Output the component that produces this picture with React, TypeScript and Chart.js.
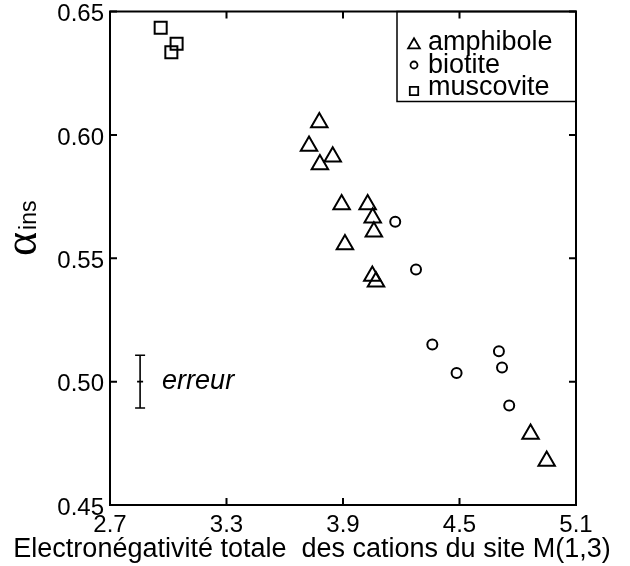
import React, { useEffect, useRef } from 'react';
import { Chart, registerables } from 'chart.js';

Chart.register(...registerables);

// ---- data ----
const seriesLabels = ['amphibole', 'biotite', 'muscovite'];

const amphiboleX = [3.778, 3.725, 3.781, 3.847, 3.893, 4.027, 4.053, 4.059, 3.91, 4.051, 4.07, 4.866, 4.949];
const amphiboleY = [0.605, 0.5955, 0.588, 0.5911, 0.5718, 0.5718, 0.5664, 0.5607, 0.5556, 0.5428, 0.5405, 0.4788, 0.4678];

const biotiteX = [4.169, 4.276, 4.36, 4.485, 4.703, 4.719, 4.756];
const biotiteY = [0.5648, 0.5454, 0.515, 0.5035, 0.5123, 0.5057, 0.4903];

const muscoviteX = [2.961, 3.043, 3.016];
const muscoviteY = [0.6434, 0.6369, 0.6335];

const xTicks = [2.7, 3.3, 3.9, 4.5, 5.1];
const yTicks = [0.45, 0.5, 0.55, 0.6, 0.65];

const xTitle = 'Electronégativité totale  des cations du site M(1,3)';
const yTitleMain = 'α';
const yTitleSub = 'ins';

const errorX = 2.855;
const errorCenter = 0.5;
const errorHalf = 0.0107;
const errorLabel = 'erreur';

const FONT = '"Liberation Sans", Arial, Helvetica, sans-serif';

function toPoints(xs: number[], ys: number[]) {
  return xs.map((x, i) => ({ x, y: ys[i] }));
}

function drawMarker(ctx: CanvasRenderingContext2D, style: string, x: number, y: number, r: number) {
  ctx.beginPath();
  if (style === 'triangle') {
    for (let k = 0; k < 3; k++) {
      const a = (k * 2 * Math.PI) / 3;
      const px = x + Math.sin(a) * r;
      const py = y - Math.cos(a) * r;
      if (k === 0) ctx.moveTo(px, py);
      else ctx.lineTo(px, py);
    }
    ctx.closePath();
  } else if (style === 'circle') {
    ctx.arc(x, y, r, 0, Math.PI * 2);
  } else {
    ctx.rect(x - r, y - r, 2 * r, 2 * r);
  }
  ctx.stroke();
}

const decorPlugin = {
  id: 'decor',
  afterDatasetsDraw(chart: any) {
    const { ctx, chartArea: a, scales } = chart;
    const xs = scales.x;
    const ys = scales.y;
    ctx.save();
    ctx.strokeStyle = '#000';
    ctx.fillStyle = '#000';

    // error bar
    const ex = xs.getPixelForValue(errorX);
    const eTop = ys.getPixelForValue(errorCenter + errorHalf);
    const eBot = ys.getPixelForValue(errorCenter - errorHalf);
    const eMid = ys.getPixelForValue(errorCenter);
    ctx.lineWidth = 1.6;
    ctx.beginPath();
    ctx.moveTo(ex, eTop);
    ctx.lineTo(ex, eBot);
    ctx.moveTo(ex - 5, eTop);
    ctx.lineTo(ex + 5, eTop);
    ctx.moveTo(ex - 5, eBot);
    ctx.lineTo(ex + 5, eBot);
    ctx.moveTo(ex - 3, eMid);
    ctx.lineTo(ex + 3, eMid);
    ctx.stroke();
    ctx.font = `italic 27px ${FONT}`;
    ctx.textAlign = 'left';
    ctx.textBaseline = 'middle';
    ctx.fillText(errorLabel, ex + 22, eMid);

    // legend box
    const lx0 = a.right - 179;
    const ly0 = a.top;
    const ly1 = a.top + 90;
    ctx.lineWidth = 1.5;
    ctx.strokeRect(lx0, ly0, a.right - lx0, ly1 - ly0);
    const styles = ['triangle', 'circle', 'rect'];
    const radii = [6.8, 3.5, 4.2];
    const rowY = [43, 66, 88];
    const mY = [45, 65, 91];
    ctx.font = `27px ${FONT}`;
    ctx.textBaseline = 'middle';
    seriesLabels.forEach((lab, i) => {
      ctx.lineWidth = 1.8;
      drawMarker(ctx, styles[i], lx0 + 17, mY[i], radii[i]);
      ctx.fillText(lab, lx0 + 31, rowY[i]);
    });

    // frame + inward ticks on all four sides
    ctx.lineWidth = 2;
    ctx.strokeRect(a.left, a.top, a.right - a.left, a.bottom - a.top);
    const L = 7;
    ctx.beginPath();
    xTicks.forEach((v) => {
      const p = xs.getPixelForValue(v);
      ctx.moveTo(p, a.bottom);
      ctx.lineTo(p, a.bottom - L);
      ctx.moveTo(p, a.top);
      ctx.lineTo(p, a.top + L);
    });
    yTicks.forEach((v) => {
      const p = ys.getPixelForValue(v);
      ctx.moveTo(a.left, p);
      ctx.lineTo(a.left + L, p);
      ctx.moveTo(a.right, p);
      ctx.lineTo(a.right - L, p);
    });
    ctx.stroke();

    // x title
    ctx.font = `27px ${FONT}`;
    ctx.textAlign = 'center';
    ctx.textBaseline = 'alphabetic';
    ctx.fillText(xTitle, 312, 557);

    // y title (rotated)
    ctx.translate(36, 256);
    ctx.rotate(-Math.PI / 2);
    ctx.textAlign = 'left';
    ctx.font = `46px "Liberation Serif", "Times New Roman", serif`;
    ctx.fillText(yTitleMain, 0, 0);
    const w = ctx.measureText(yTitleMain).width;
    ctx.font = `23px ${FONT}`;
    ctx.fillText(yTitleSub, w + 2, 0);

    ctx.restore();
  },
};

export default function App() {
  const ref = useRef<HTMLCanvasElement>(null);

  useEffect(() => {
    document.body.style.margin = '0';
    const canvas = ref.current;
    if (!canvas) return;
    const common = {
      borderColor: '#000',
      backgroundColor: 'rgba(0,0,0,0)',
      pointBorderColor: '#000',
      pointBackgroundColor: 'rgba(0,0,0,0)',
      showLine: false,
    };
    const chart = new Chart(canvas, {
      type: 'scatter',
      data: {
        datasets: [
          { ...common, label: seriesLabels[0], data: toPoints(amphiboleX, amphiboleY), pointStyle: 'triangle', pointRadius: 9.5, pointBorderWidth: 2 },
          { ...common, label: seriesLabels[1], data: toPoints(biotiteX, biotiteY), pointStyle: 'circle', pointRadius: 5, pointBorderWidth: 2 },
          { ...common, label: seriesLabels[2], data: toPoints(muscoviteX, muscoviteY), pointStyle: 'rect', pointRadius: 8.5, pointBorderWidth: 2 },
        ],
      } as any,
      options: {
        animation: false,
        responsive: true,
        maintainAspectRatio: false,
        layout: { padding: { top: 11, right: 54, bottom: 0, left: 0 } },
        plugins: { legend: { display: false }, tooltip: { enabled: false } },
        scales: {
          x: {
            type: 'linear',
            min: 2.7,
            max: 5.1,
            afterBuildTicks: (s: any) => {
              s.ticks = xTicks.map((v) => ({ value: v }));
            },
            afterFit: (s: any) => {
              s.height = 61;
              s.paddingLeft = 0;
              s.paddingRight = 0;
            },
            grid: { display: false, drawTicks: false },
            border: { display: false },
            ticks: {
              color: '#000',
              font: { family: FONT, size: 24 },
              padding: 6,
              maxRotation: 0,
              autoSkip: false,
              callback: (v: any) => Number(v).toFixed(1),
            },
          },
          y: {
            type: 'linear',
            min: 0.45,
            max: 0.65,
            afterBuildTicks: (s: any) => {
              s.ticks = yTicks.map((v) => ({ value: v }));
            },
            afterFit: (s: any) => {
              s.width = 110;
              s.paddingTop = 0;
              s.paddingBottom = 0;
            },
            grid: { display: false, drawTicks: false },
            border: { display: false },
            ticks: {
              color: '#000',
              font: { family: FONT, size: 24 },
              padding: 6,
              labelOffset: 3,
              autoSkip: false,
              callback: (v: any) => Number(v).toFixed(2),
            },
          },
        },
      } as any,
      plugins: [decorPlugin],
    });
    return () => chart.destroy();
  }, []);

  return (
    <div style={{ position: 'relative', width: 630, height: 566, background: '#fff' }}>
      <canvas ref={ref} />
    </div>
  );
}
